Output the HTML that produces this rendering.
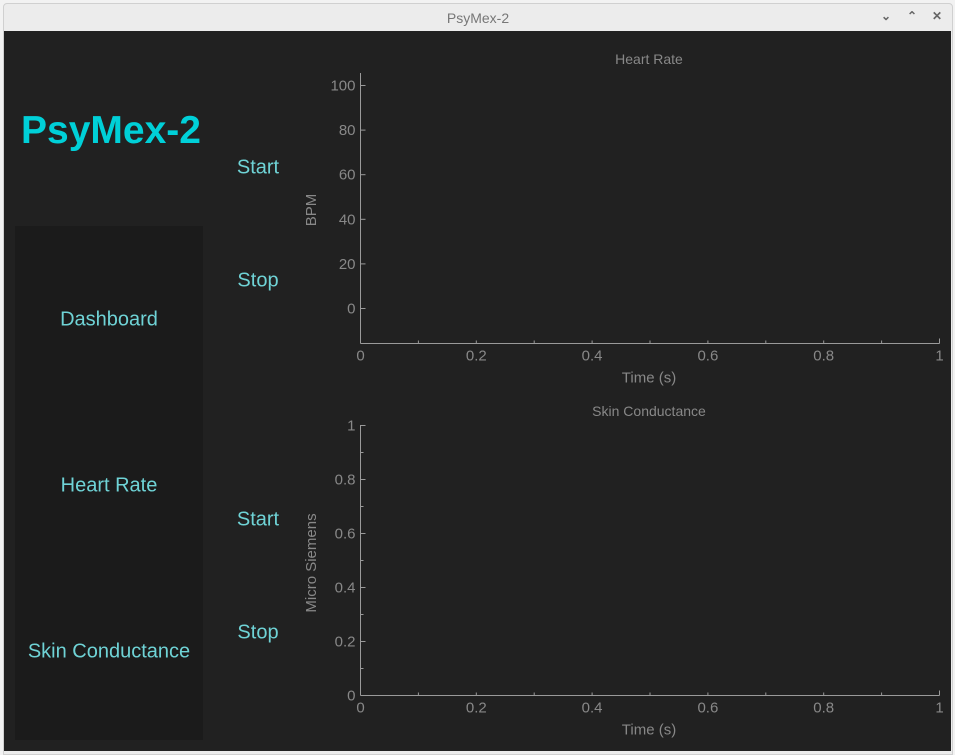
<!DOCTYPE html>
<html><head><meta charset="utf-8">
<style>
html,body{margin:0;padding:0;width:955px;height:755px;overflow:hidden;background:#f2f2f2;font-family:"Liberation Sans",sans-serif;}
#win{position:absolute;left:3px;top:3px;width:948px;height:750px;border:1px solid #d0d0d0;border-radius:4px 4px 0 0;background:#ececec;}
#titlebar{position:absolute;left:0;top:0;width:948px;height:28px;text-align:center;line-height:28px;color:#777;font-size:14px;}
.wbtn{position:absolute;top:5px;font-size:12px;color:#666;font-weight:bold;}
#app{position:absolute;left:4px;top:31px;width:947px;height:720px;background:#212121;}
#panel{position:absolute;left:11px;top:195px;width:188px;height:514px;background:#1b1b1b;}
.t{position:absolute;color:#6fd3d6;font-size:20px;white-space:nowrap;transform:translate(-50%,-50%);}
svg{position:absolute;left:0;top:0;}
</style></head><body>
<div id="win">
 <div id="titlebar">PsyMex-2</div>
 <div class="wbtn" style="left:877px">&#8964;</div>
 <div class="wbtn" style="left:903px">&#8963;</div>
 <div class="wbtn" style="left:928px">&#10005;</div>
</div>
<div id="app">
 <div id="panel"></div>
</div>
<div class="t" style="left:111px;top:131px;color:#00d0d8;font-size:39px;font-weight:bold">PsyMex-2</div>
<div class="t" style="left:109px;top:320px">Dashboard</div>
<div class="t" style="left:109px;top:486px">Heart Rate</div>
<div class="t" style="left:109px;top:652px">Skin Conductance</div>
<div class="t" style="left:258px;top:168px">Start</div>
<div class="t" style="left:258px;top:281px">Stop</div>
<div class="t" style="left:258px;top:520px">Start</div>
<div class="t" style="left:258px;top:633px">Stop</div>
<svg id="chart" width="955" height="755"></svg>
<script>
const xTicks=[0,0.2,0.4,0.6,0.8,1];
const xTickLabels=["0","0.2","0.4","0.6","0.8","1"];
const hrYTicks=[0,20,40,60,80,100];
const hrYTickLabels=["0","20","40","60","80","100"];
const scYTicks=[0,0.2,0.4,0.6,0.8,1];
const scYTickLabels=["0","0.2","0.4","0.6","0.8","1"];
const hrSeries=[];
const scSeries=[];
const NS="http://www.w3.org/2000/svg";
const svg=document.getElementById('chart');
function el(tag,attrs,txt){const e=document.createElementNS(NS,tag);for(const k in attrs)e.setAttribute(k,attrs[k]);if(txt!==undefined)e.textContent=txt;svg.appendChild(e);return e;}
function chart(o){
 const x=v=>o.x0+(v-o.xmin)/(o.xmax-o.xmin)*(o.x1-o.x0);
 const y=v=>o.yb0-(v-o.ymin)/(o.ymax-o.ymin)*(o.yb0-o.yb1);
 const c='#9a9a9a';
 let e=el('line',{x1:o.x0,y1:o.axTop,x2:o.x0,y2:o.axBot,stroke:c,'stroke-width':1});
 
 e=el('line',{x1:o.x0,y1:o.axBot,x2:o.x1,y2:o.axBot,stroke:c,'stroke-width':1});
 
 for(let i=0;i<=10;i++){const v=i/10,px=x(v);
  e=el('line',{x1:px,y1:o.axBot,x2:px,y2:o.axBot-(i==10?5:3),stroke:c});
  }
 xTicks.forEach((v,i)=>{e=el('text',{x:x(v),y:o.axBot+17,fill:'#888','font-size':15,'text-anchor':'middle'},xTickLabels[i]);
  });
 o.yt.forEach((v,i)=>{const py=y(v);
  e=el('line',{x1:o.x0,y1:py,x2:o.x0+5,y2:py,stroke:c});
  
  e=el('text',{x:o.x0-5,y:py+5,fill:'#888','font-size':15,'text-anchor':'end'},o.yl[i]);
  
  if(o.minor&&i<o.yt.length-1){const m=y((v+o.yt[i+1])/2);
   e=el('line',{x1:o.x0,y1:m,x2:o.x0+3,y2:m,stroke:c});
   }
 });
 e=el('text',{x:649,y:o.titleY,fill:'#888','font-size':14,'text-anchor':'middle'},o.title);
 
 e=el('text',{x:649,y:o.axBot+39,fill:'#888','font-size':15,'text-anchor':'middle'},'Time (s)');
 
 const cy=o.yTitleY;
 e=el('text',{x:316,y:cy,fill:'#888','font-size':15,'text-anchor':'middle',transform:'rotate(-90 316 '+cy+')'},o.ylabel);
 
 if(o.data.length){const pts=o.data.map(d=>x(d[0])+','+y(d[1])).join(' ');
  e=el('polyline',{points:pts,fill:'none',stroke:'#00d0d8','stroke-width':2});
  }
}
chart({p:'hr',x0:360.5,x1:939.5,xmin:0,xmax:1,ymin:0,ymax:100,yb0:308.5,yb1:85.5,axTop:73,axBot:343.5,yt:hrYTicks,yl:hrYTickLabels,minor:false,title:'Heart Rate',titleY:64,ylabel:'BPM',yTitleY:210,data:hrSeries});
chart({p:'sc',x0:360.5,x1:939.5,xmin:0,xmax:1,ymin:0,ymax:1,yb0:695.5,yb1:425.5,axTop:425,axBot:695.5,yt:scYTicks,yl:scYTickLabels,minor:true,title:'Skin Conductance',titleY:416,ylabel:'Micro Siemens',yTitleY:563,data:scSeries});
</script>
</body></html>
